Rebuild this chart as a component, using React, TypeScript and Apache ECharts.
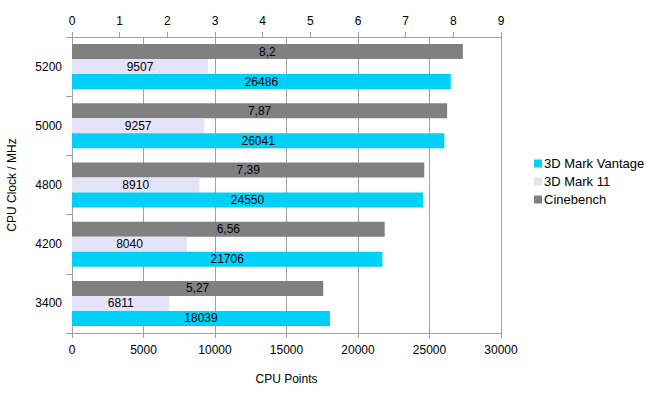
import React, { useEffect, useRef } from "react";
import * as echarts from "echarts";

const categories = ["3400", "4200", "4800", "5000", "5200"];
const vantage = [18039, 21706, 24550, 26041, 26486];
const mark11 = [6811, 8040, 8910, 9257, 9507];
const cinebench = [5.27, 6.56, 7.39, 7.87, 8.2];
const seriesNames = ["3D Mark Vantage", "3D Mark 11", "Cinebench"];

const FONT = "Liberation Sans, Arial, sans-serif";
const AXIS_COLOR = "#a0a0a0";

export default function App() {
  const ref = useRef<HTMLDivElement>(null);
  useEffect(() => {
    if (!ref.current) return;
    const chart = echarts.init(ref.current, undefined, { renderer: "svg" });
    const labelStyle = {
      show: true,
      position: "inside" as const,
      color: "#000",
      fontFamily: FONT,
      fontSize: 12,
    };
    const plain = (v: number) => String(v);
    chart.setOption({
      animation: false,
      backgroundColor: "#fff",
      textStyle: { fontFamily: FONT },
      grid: {
        left: 72,
        right: 159,
        top: 37,
        bottom: 70,
        containLabel: false,
        outerBoundsMode: "none",
      },
      legend: {
        orient: "vertical",
        left: 529,
        top: 152,
        itemWidth: 8,
        itemHeight: 8,
        itemGap: 5,
        icon: "rect",
        textStyle: { fontFamily: FONT, fontSize: 13, color: "#000", padding: [0, 0, 0, -3] },
        data: seriesNames,
      },
      xAxis: [
        {
          type: "value",
          position: "bottom",
          min: 0,
          max: 30000,
          interval: 5000,
          name: "CPU Points",
          nameLocation: "middle",
          nameGap: 40,
          nameTextStyle: { fontFamily: FONT, fontSize: 12, color: "#000" },
          axisLine: { show: true, lineStyle: { color: AXIS_COLOR } },
          axisTick: { show: true, length: 5, lineStyle: { color: AXIS_COLOR } },
          axisLabel: { fontFamily: FONT, fontSize: 12, color: "#000", margin: 11, formatter: plain },
          splitLine: { show: true, lineStyle: { color: AXIS_COLOR } },
        },
        {
          type: "value",
          position: "top",
          min: 0,
          max: 9,
          interval: 1,
          axisLine: { show: true, lineStyle: { color: AXIS_COLOR } },
          axisTick: { show: true, length: 5, lineStyle: { color: AXIS_COLOR } },
          axisLabel: { fontFamily: FONT, fontSize: 12, color: "#000", margin: 10, formatter: plain },
          splitLine: { show: false },
        },
      ],
      yAxis: {
        type: "category",
        data: categories,
        name: "CPU Clock / MHz",
        nameLocation: "middle",
        nameRotate: 90,
        nameGap: 54,
        nameTextStyle: { fontFamily: FONT, fontSize: 12, color: "#000" },
        axisLine: { show: true, lineStyle: { color: AXIS_COLOR } },
        axisTick: { show: true, length: 6, lineStyle: { color: AXIS_COLOR } },
        axisLabel: { fontFamily: FONT, fontSize: 12, color: "#000", margin: 10 },
      },
      series: [
        {
          name: seriesNames[2],
          type: "bar",
          xAxisIndex: 1,
          data: cinebench,
          barWidth: 15,
          barGap: "0%",
          itemStyle: { color: "#808080" },
          label: {
            ...labelStyle,
            formatter: (p: any) => String(p.value).replace(".", ","),
          },
        },
        {
          name: seriesNames[1],
          type: "bar",
          xAxisIndex: 0,
          data: mark11,
          barWidth: 15,
          barGap: "0%",
          itemStyle: { color: "#E4E4F8" },
          label: labelStyle,
        },
        {
          name: seriesNames[0],
          type: "bar",
          xAxisIndex: 0,
          data: vantage,
          barWidth: 15,
          barGap: "0%",
          itemStyle: { color: "#00D0F8" },
          label: labelStyle,
        },
      ],
    });
    return () => chart.dispose();
  }, []);
  return (
    <div
      ref={ref}
      style={{ position: "absolute", left: 0, top: 0, width: 660, height: 403 }}
    />
  );
}
